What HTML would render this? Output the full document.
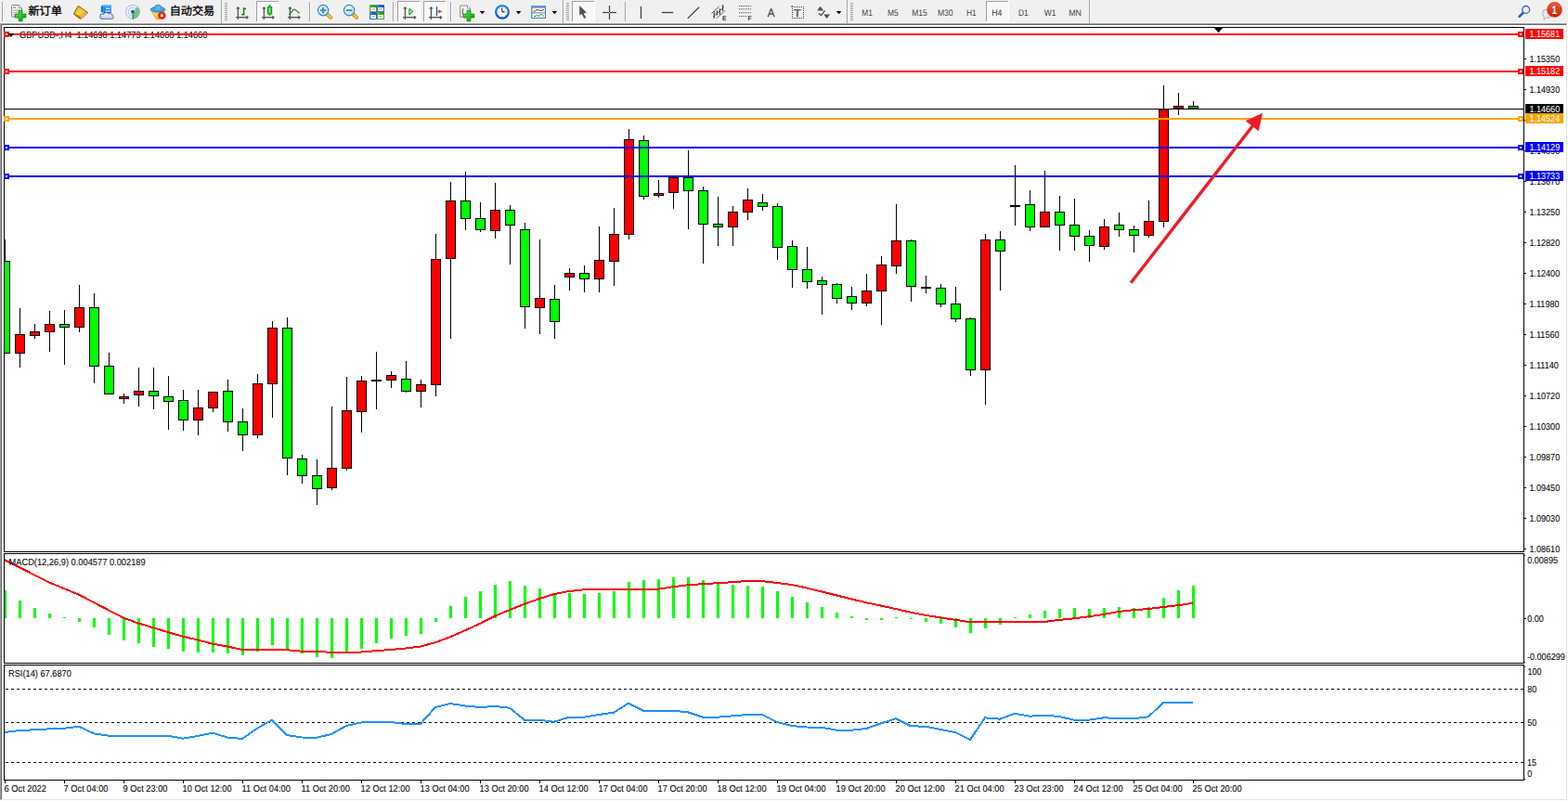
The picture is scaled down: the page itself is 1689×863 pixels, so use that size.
<!DOCTYPE html>
<html><head><meta charset="utf-8"><title>GBPUSD H4</title>
<style>html,body{margin:0;padding:0;background:#f0f0f0;overflow:hidden}body{width:1689px;height:863px;font-family:"Liberation Sans",sans-serif}svg{display:block;position:absolute;left:0;top:0}text{font-family:"Liberation Sans",sans-serif;text-rendering:geometricPrecision}</style>
</head><body>
<svg width="1689" height="863" viewBox="0 0 1689 863">

<rect x="0" y="0" width="1689" height="863" fill="#f0f0f0"/>
<g shape-rendering="crispEdges">
<rect x="0" y="24" width="1689" height="1" fill="#f8f8f8"/>
<rect x="0" y="25" width="1689" height="838" fill="#a0a0a0"/>
<rect x="1" y="26" width="1688" height="837" fill="#696969"/>
<rect x="2" y="27" width="1687" height="836" fill="#ffffff"/>
<rect x="1687" y="26" width="1" height="836" fill="#e3e3e3"/>
<rect x="1" y="861" width="1687" height="1" fill="#e3e3e3"/>
<rect x="1688" y="25" width="1" height="838" fill="#ffffff"/>
<rect x="0" y="862" width="1689" height="1" fill="#ffffff"/>
</g>
<g font-size="9px" fill="#000">
<text transform="translate(21,40.7) scale(0.90711,1)" font-size="10.175px" fill="#000" stroke="#000" stroke-width="0.06" xml:space="preserve">GBPUSD-,H4  1.14690 1.14773 1.14660 1.14660</text>
</g>
<g shape-rendering="crispEdges">
<rect x="4" y="29" width="1638" height="1" fill="#000"/>
<rect x="4" y="29" width="1" height="812" fill="#000"/>
<rect x="1641" y="29" width="1" height="812" fill="#000"/>
<rect x="4" y="594" width="1638" height="1" fill="#000"/>
<rect x="4" y="596" width="1638" height="1" fill="#000"/>
<rect x="4" y="714" width="1638" height="1" fill="#000"/>
<rect x="4" y="716" width="1638" height="1" fill="#000"/>
<rect x="4" y="840" width="1638" height="1" fill="#000"/>
<rect x="4" y="595" width="1" height="1" fill="#fff"/>
<rect x="4" y="715" width="1" height="1" fill="#fff"/>
<rect x="1641" y="595" width="1" height="1" fill="#fff"/>
<rect x="1641" y="715" width="1" height="1" fill="#fff"/>
<polygon points="1307.5,29.5 1317.5,29.5 1312.5,35.2" fill="#000" shape-rendering="geometricPrecision"/>
</g>
<g shape-rendering="crispEdges">
<rect x="1642" y="63" width="2" height="1" fill="#000"/>
<rect x="1642" y="96" width="2" height="1" fill="#000"/>
<rect x="1642" y="129" width="2" height="1" fill="#000"/>
<rect x="1642" y="162" width="2" height="1" fill="#000"/>
<rect x="1642" y="195" width="2" height="1" fill="#000"/>
<rect x="1642" y="228" width="2" height="1" fill="#000"/>
<rect x="1642" y="261" width="2" height="1" fill="#000"/>
<rect x="1642" y="294" width="2" height="1" fill="#000"/>
<rect x="1642" y="327" width="2" height="1" fill="#000"/>
<rect x="1642" y="360" width="2" height="1" fill="#000"/>
<rect x="1642" y="393" width="2" height="1" fill="#000"/>
<rect x="1642" y="426" width="2" height="1" fill="#000"/>
<rect x="1642" y="459" width="2" height="1" fill="#000"/>
<rect x="1642" y="492" width="2" height="1" fill="#000"/>
<rect x="1642" y="525" width="2" height="1" fill="#000"/>
<rect x="1642" y="558" width="2" height="1" fill="#000"/>
<rect x="1642" y="591" width="2" height="1" fill="#000"/>
</g>
<g font-size="9px" fill="#000">
<text transform="translate(1647.4,67) scale(0.89340,1)" font-size="10.175px" fill="#000" stroke="#000" stroke-width="0.06" xml:space="preserve">1.15350</text>
<text transform="translate(1647.4,100) scale(0.89340,1)" font-size="10.175px" fill="#000" stroke="#000" stroke-width="0.06" xml:space="preserve">1.14930</text>
<text transform="translate(1647.4,166) scale(0.89340,1)" font-size="10.175px" fill="#000" stroke="#000" stroke-width="0.06" xml:space="preserve">1.14090</text>
<text transform="translate(1647.4,199) scale(0.89340,1)" font-size="10.175px" fill="#000" stroke="#000" stroke-width="0.06" xml:space="preserve">1.13670</text>
<text transform="translate(1647.4,232) scale(0.89340,1)" font-size="10.175px" fill="#000" stroke="#000" stroke-width="0.06" xml:space="preserve">1.13250</text>
<text transform="translate(1647.4,265) scale(0.89340,1)" font-size="10.175px" fill="#000" stroke="#000" stroke-width="0.06" xml:space="preserve">1.12820</text>
<text transform="translate(1647.4,298) scale(0.89340,1)" font-size="10.175px" fill="#000" stroke="#000" stroke-width="0.06" xml:space="preserve">1.12400</text>
<text transform="translate(1647.4,331) scale(0.89340,1)" font-size="10.175px" fill="#000" stroke="#000" stroke-width="0.06" xml:space="preserve">1.11980</text>
<text transform="translate(1647.4,364) scale(0.89340,1)" font-size="10.175px" fill="#000" stroke="#000" stroke-width="0.06" xml:space="preserve">1.11560</text>
<text transform="translate(1647.4,397) scale(0.89340,1)" font-size="10.175px" fill="#000" stroke="#000" stroke-width="0.06" xml:space="preserve">1.11140</text>
<text transform="translate(1647.4,430) scale(0.89340,1)" font-size="10.175px" fill="#000" stroke="#000" stroke-width="0.06" xml:space="preserve">1.10720</text>
<text transform="translate(1647.4,463) scale(0.89340,1)" font-size="10.175px" fill="#000" stroke="#000" stroke-width="0.06" xml:space="preserve">1.10300</text>
<text transform="translate(1647.4,496) scale(0.89340,1)" font-size="10.175px" fill="#000" stroke="#000" stroke-width="0.06" xml:space="preserve">1.09870</text>
<text transform="translate(1647.4,529) scale(0.89340,1)" font-size="10.175px" fill="#000" stroke="#000" stroke-width="0.06" xml:space="preserve">1.09450</text>
<text transform="translate(1647.4,562) scale(0.89340,1)" font-size="10.175px" fill="#000" stroke="#000" stroke-width="0.06" xml:space="preserve">1.09030</text>
<text transform="translate(1647.4,595) scale(0.89340,1)" font-size="10.175px" fill="#000" stroke="#000" stroke-width="0.06" xml:space="preserve">1.08610</text>
</g>
<g shape-rendering="crispEdges">
<rect x="5" y="258" width="1" height="123" fill="#000"/>
<rect x="5" y="281" width="6" height="100" fill="#000"/>
<rect x="5" y="282" width="5" height="98" fill="#00ff00"/>
<rect x="21" y="332" width="1" height="64" fill="#000"/>
<rect x="16" y="360" width="11" height="21" fill="#000"/>
<rect x="17" y="361" width="9" height="19" fill="#ff0000"/>
<rect x="37" y="349" width="1" height="16" fill="#000"/>
<rect x="32" y="357" width="11" height="5" fill="#000"/>
<rect x="33" y="358" width="9" height="3" fill="#ff0000"/>
<rect x="53" y="335" width="1" height="44" fill="#000"/>
<rect x="48" y="349" width="11" height="9" fill="#000"/>
<rect x="49" y="350" width="9" height="7" fill="#ff0000"/>
<rect x="69" y="334" width="1" height="59" fill="#000"/>
<rect x="64" y="349" width="11" height="4" fill="#000"/>
<rect x="65" y="350" width="9" height="2" fill="#00ff00"/>
<rect x="85" y="307" width="1" height="51" fill="#000"/>
<rect x="80" y="331" width="11" height="22" fill="#000"/>
<rect x="81" y="332" width="9" height="20" fill="#ff0000"/>
<rect x="101" y="316" width="1" height="97" fill="#000"/>
<rect x="96" y="331" width="11" height="64" fill="#000"/>
<rect x="97" y="332" width="9" height="62" fill="#00ff00"/>
<rect x="117" y="380" width="1" height="45" fill="#000"/>
<rect x="112" y="394" width="11" height="31" fill="#000"/>
<rect x="113" y="395" width="9" height="29" fill="#00ff00"/>
<rect x="133" y="424" width="1" height="11" fill="#000"/>
<rect x="128" y="427" width="11" height="3" fill="#000"/>
<rect x="129" y="428" width="9" height="1" fill="#ff0000"/>
<rect x="149" y="396" width="1" height="42" fill="#000"/>
<rect x="144" y="421" width="11" height="5" fill="#000"/>
<rect x="145" y="422" width="9" height="3" fill="#ff0000"/>
<rect x="165" y="396" width="1" height="45" fill="#000"/>
<rect x="160" y="421" width="11" height="6" fill="#000"/>
<rect x="161" y="422" width="9" height="4" fill="#00ff00"/>
<rect x="181" y="405" width="1" height="58" fill="#000"/>
<rect x="176" y="427" width="11" height="6" fill="#000"/>
<rect x="177" y="428" width="9" height="4" fill="#00ff00"/>
<rect x="197" y="420" width="1" height="44" fill="#000"/>
<rect x="192" y="431" width="11" height="22" fill="#000"/>
<rect x="193" y="432" width="9" height="20" fill="#00ff00"/>
<rect x="213" y="420" width="1" height="49" fill="#000"/>
<rect x="208" y="439" width="11" height="14" fill="#000"/>
<rect x="209" y="440" width="9" height="12" fill="#ff0000"/>
<rect x="229" y="422" width="1" height="22" fill="#000"/>
<rect x="224" y="422" width="11" height="18" fill="#000"/>
<rect x="225" y="423" width="9" height="16" fill="#ff0000"/>
<rect x="245" y="409" width="1" height="56" fill="#000"/>
<rect x="240" y="421" width="11" height="34" fill="#000"/>
<rect x="241" y="422" width="9" height="32" fill="#00ff00"/>
<rect x="261" y="440" width="1" height="46" fill="#000"/>
<rect x="256" y="454" width="11" height="15" fill="#000"/>
<rect x="257" y="455" width="9" height="13" fill="#00ff00"/>
<rect x="277" y="403" width="1" height="69" fill="#000"/>
<rect x="272" y="413" width="11" height="56" fill="#000"/>
<rect x="273" y="414" width="9" height="54" fill="#ff0000"/>
<rect x="293" y="346" width="1" height="104" fill="#000"/>
<rect x="288" y="353" width="11" height="61" fill="#000"/>
<rect x="289" y="354" width="9" height="59" fill="#ff0000"/>
<rect x="309" y="342" width="1" height="170" fill="#000"/>
<rect x="304" y="353" width="11" height="141" fill="#000"/>
<rect x="305" y="354" width="9" height="139" fill="#00ff00"/>
<rect x="325" y="490" width="1" height="31" fill="#000"/>
<rect x="320" y="494" width="11" height="19" fill="#000"/>
<rect x="321" y="495" width="9" height="17" fill="#00ff00"/>
<rect x="341" y="495" width="1" height="49" fill="#000"/>
<rect x="336" y="512" width="11" height="15" fill="#000"/>
<rect x="337" y="513" width="9" height="13" fill="#00ff00"/>
<rect x="357" y="438" width="1" height="90" fill="#000"/>
<rect x="352" y="504" width="11" height="22" fill="#000"/>
<rect x="353" y="505" width="9" height="20" fill="#ff0000"/>
<rect x="373" y="406" width="1" height="101" fill="#000"/>
<rect x="368" y="442" width="11" height="63" fill="#000"/>
<rect x="369" y="443" width="9" height="61" fill="#ff0000"/>
<rect x="389" y="405" width="1" height="61" fill="#000"/>
<rect x="384" y="410" width="11" height="34" fill="#000"/>
<rect x="385" y="411" width="9" height="32" fill="#ff0000"/>
<rect x="405" y="379" width="1" height="62" fill="#000"/>
<rect x="400" y="409" width="11" height="2" fill="#000"/>
<rect x="421" y="400" width="1" height="18" fill="#000"/>
<rect x="416" y="404" width="11" height="6" fill="#000"/>
<rect x="417" y="405" width="9" height="4" fill="#ff0000"/>
<rect x="437" y="389" width="1" height="34" fill="#000"/>
<rect x="432" y="408" width="11" height="14" fill="#000"/>
<rect x="433" y="409" width="9" height="12" fill="#00ff00"/>
<rect x="453" y="409" width="1" height="30" fill="#000"/>
<rect x="448" y="414" width="11" height="8" fill="#000"/>
<rect x="449" y="415" width="9" height="6" fill="#ff0000"/>
<rect x="469" y="252" width="1" height="175" fill="#000"/>
<rect x="464" y="279" width="11" height="136" fill="#000"/>
<rect x="465" y="280" width="9" height="134" fill="#ff0000"/>
<rect x="485" y="196" width="1" height="169" fill="#000"/>
<rect x="480" y="216" width="11" height="63" fill="#000"/>
<rect x="481" y="217" width="9" height="61" fill="#ff0000"/>
<rect x="501" y="185" width="1" height="63" fill="#000"/>
<rect x="496" y="216" width="11" height="20" fill="#000"/>
<rect x="497" y="217" width="9" height="18" fill="#00ff00"/>
<rect x="517" y="218" width="1" height="32" fill="#000"/>
<rect x="512" y="235" width="11" height="13" fill="#000"/>
<rect x="513" y="236" width="9" height="11" fill="#00ff00"/>
<rect x="533" y="197" width="1" height="60" fill="#000"/>
<rect x="528" y="226" width="11" height="23" fill="#000"/>
<rect x="529" y="227" width="9" height="21" fill="#ff0000"/>
<rect x="549" y="221" width="1" height="64" fill="#000"/>
<rect x="544" y="226" width="11" height="17" fill="#000"/>
<rect x="545" y="227" width="9" height="15" fill="#00ff00"/>
<rect x="565" y="240" width="1" height="114" fill="#000"/>
<rect x="560" y="247" width="11" height="84" fill="#000"/>
<rect x="561" y="248" width="9" height="82" fill="#00ff00"/>
<rect x="581" y="258" width="1" height="102" fill="#000"/>
<rect x="576" y="321" width="11" height="11" fill="#000"/>
<rect x="577" y="322" width="9" height="9" fill="#ff0000"/>
<rect x="597" y="307" width="1" height="58" fill="#000"/>
<rect x="592" y="322" width="11" height="25" fill="#000"/>
<rect x="593" y="323" width="9" height="23" fill="#00ff00"/>
<rect x="613" y="289" width="1" height="24" fill="#000"/>
<rect x="608" y="294" width="11" height="5" fill="#000"/>
<rect x="609" y="295" width="9" height="3" fill="#ff0000"/>
<rect x="629" y="286" width="1" height="29" fill="#000"/>
<rect x="624" y="294" width="11" height="7" fill="#000"/>
<rect x="625" y="295" width="9" height="5" fill="#00ff00"/>
<rect x="645" y="244" width="1" height="71" fill="#000"/>
<rect x="640" y="280" width="11" height="21" fill="#000"/>
<rect x="641" y="281" width="9" height="19" fill="#ff0000"/>
<rect x="661" y="224" width="1" height="84" fill="#000"/>
<rect x="656" y="252" width="11" height="30" fill="#000"/>
<rect x="657" y="253" width="9" height="28" fill="#ff0000"/>
<rect x="677" y="139" width="1" height="119" fill="#000"/>
<rect x="672" y="150" width="11" height="103" fill="#000"/>
<rect x="673" y="151" width="9" height="101" fill="#ff0000"/>
<rect x="693" y="146" width="1" height="69" fill="#000"/>
<rect x="688" y="151" width="11" height="61" fill="#000"/>
<rect x="689" y="152" width="9" height="59" fill="#00ff00"/>
<rect x="709" y="194" width="1" height="19" fill="#000"/>
<rect x="704" y="208" width="11" height="3" fill="#000"/>
<rect x="705" y="209" width="9" height="1" fill="#ff0000"/>
<rect x="725" y="191" width="1" height="34" fill="#000"/>
<rect x="720" y="191" width="11" height="17" fill="#000"/>
<rect x="721" y="192" width="9" height="15" fill="#ff0000"/>
<rect x="741" y="162" width="1" height="85" fill="#000"/>
<rect x="736" y="191" width="11" height="15" fill="#000"/>
<rect x="737" y="192" width="9" height="13" fill="#00ff00"/>
<rect x="757" y="201" width="1" height="83" fill="#000"/>
<rect x="752" y="205" width="11" height="37" fill="#000"/>
<rect x="753" y="206" width="9" height="35" fill="#00ff00"/>
<rect x="773" y="212" width="1" height="53" fill="#000"/>
<rect x="768" y="241" width="11" height="4" fill="#000"/>
<rect x="769" y="242" width="9" height="2" fill="#00ff00"/>
<rect x="789" y="222" width="1" height="43" fill="#000"/>
<rect x="784" y="228" width="11" height="17" fill="#000"/>
<rect x="785" y="229" width="9" height="15" fill="#ff0000"/>
<rect x="805" y="203" width="1" height="34" fill="#000"/>
<rect x="800" y="215" width="11" height="14" fill="#000"/>
<rect x="801" y="216" width="9" height="12" fill="#ff0000"/>
<rect x="821" y="209" width="1" height="18" fill="#000"/>
<rect x="816" y="218" width="11" height="5" fill="#000"/>
<rect x="817" y="219" width="9" height="3" fill="#00ff00"/>
<rect x="837" y="219" width="1" height="61" fill="#000"/>
<rect x="832" y="222" width="11" height="45" fill="#000"/>
<rect x="833" y="223" width="9" height="43" fill="#00ff00"/>
<rect x="853" y="259" width="1" height="51" fill="#000"/>
<rect x="848" y="265" width="11" height="26" fill="#000"/>
<rect x="849" y="266" width="9" height="24" fill="#00ff00"/>
<rect x="869" y="266" width="1" height="45" fill="#000"/>
<rect x="864" y="290" width="11" height="14" fill="#000"/>
<rect x="865" y="291" width="9" height="12" fill="#00ff00"/>
<rect x="885" y="298" width="1" height="41" fill="#000"/>
<rect x="880" y="302" width="11" height="5" fill="#000"/>
<rect x="881" y="303" width="9" height="3" fill="#00ff00"/>
<rect x="901" y="305" width="1" height="22" fill="#000"/>
<rect x="896" y="306" width="11" height="16" fill="#000"/>
<rect x="897" y="307" width="9" height="14" fill="#00ff00"/>
<rect x="917" y="309" width="1" height="25" fill="#000"/>
<rect x="912" y="319" width="11" height="8" fill="#000"/>
<rect x="913" y="320" width="9" height="6" fill="#00ff00"/>
<rect x="933" y="295" width="1" height="35" fill="#000"/>
<rect x="928" y="313" width="11" height="14" fill="#000"/>
<rect x="929" y="314" width="9" height="12" fill="#ff0000"/>
<rect x="949" y="276" width="1" height="74" fill="#000"/>
<rect x="944" y="285" width="11" height="29" fill="#000"/>
<rect x="945" y="286" width="9" height="27" fill="#ff0000"/>
<rect x="965" y="220" width="1" height="75" fill="#000"/>
<rect x="960" y="259" width="11" height="28" fill="#000"/>
<rect x="961" y="260" width="9" height="26" fill="#ff0000"/>
<rect x="981" y="258" width="1" height="67" fill="#000"/>
<rect x="976" y="259" width="11" height="50" fill="#000"/>
<rect x="977" y="260" width="9" height="48" fill="#00ff00"/>
<rect x="997" y="297" width="1" height="19" fill="#000"/>
<rect x="992" y="309" width="11" height="2" fill="#000"/>
<rect x="1013" y="306" width="1" height="25" fill="#000"/>
<rect x="1008" y="310" width="11" height="18" fill="#000"/>
<rect x="1009" y="311" width="9" height="16" fill="#00ff00"/>
<rect x="1029" y="309" width="1" height="38" fill="#000"/>
<rect x="1024" y="327" width="11" height="17" fill="#000"/>
<rect x="1025" y="328" width="9" height="15" fill="#00ff00"/>
<rect x="1045" y="342" width="1" height="63" fill="#000"/>
<rect x="1040" y="343" width="11" height="56" fill="#000"/>
<rect x="1041" y="344" width="9" height="54" fill="#00ff00"/>
<rect x="1061" y="252" width="1" height="184" fill="#000"/>
<rect x="1056" y="258" width="11" height="141" fill="#000"/>
<rect x="1057" y="259" width="9" height="139" fill="#ff0000"/>
<rect x="1077" y="249" width="1" height="64" fill="#000"/>
<rect x="1072" y="258" width="11" height="13" fill="#000"/>
<rect x="1073" y="259" width="9" height="11" fill="#00ff00"/>
<rect x="1093" y="178" width="1" height="65" fill="#000"/>
<rect x="1088" y="221" width="11" height="2" fill="#000"/>
<rect x="1109" y="205" width="1" height="44" fill="#000"/>
<rect x="1104" y="220" width="11" height="25" fill="#000"/>
<rect x="1105" y="221" width="9" height="23" fill="#00ff00"/>
<rect x="1125" y="184" width="1" height="61" fill="#000"/>
<rect x="1120" y="228" width="11" height="17" fill="#000"/>
<rect x="1121" y="229" width="9" height="15" fill="#ff0000"/>
<rect x="1141" y="211" width="1" height="59" fill="#000"/>
<rect x="1136" y="228" width="11" height="15" fill="#000"/>
<rect x="1137" y="229" width="9" height="13" fill="#00ff00"/>
<rect x="1157" y="214" width="1" height="56" fill="#000"/>
<rect x="1152" y="242" width="11" height="13" fill="#000"/>
<rect x="1153" y="243" width="9" height="11" fill="#00ff00"/>
<rect x="1173" y="248" width="1" height="34" fill="#000"/>
<rect x="1168" y="254" width="11" height="11" fill="#000"/>
<rect x="1169" y="255" width="9" height="9" fill="#00ff00"/>
<rect x="1189" y="236" width="1" height="33" fill="#000"/>
<rect x="1184" y="244" width="11" height="22" fill="#000"/>
<rect x="1185" y="245" width="9" height="20" fill="#ff0000"/>
<rect x="1205" y="229" width="1" height="26" fill="#000"/>
<rect x="1200" y="242" width="11" height="6" fill="#000"/>
<rect x="1201" y="243" width="9" height="4" fill="#00ff00"/>
<rect x="1221" y="243" width="1" height="29" fill="#000"/>
<rect x="1216" y="247" width="11" height="7" fill="#000"/>
<rect x="1217" y="248" width="9" height="5" fill="#00ff00"/>
<rect x="1237" y="216" width="1" height="40" fill="#000"/>
<rect x="1232" y="238" width="11" height="16" fill="#000"/>
<rect x="1233" y="239" width="9" height="14" fill="#ff0000"/>
<rect x="1253" y="92" width="1" height="153" fill="#000"/>
<rect x="1248" y="118" width="11" height="121" fill="#000"/>
<rect x="1249" y="119" width="9" height="119" fill="#ff0000"/>
<rect x="1269" y="100" width="1" height="24" fill="#000"/>
<rect x="1264" y="114" width="11" height="3" fill="#000"/>
<rect x="1265" y="115" width="9" height="1" fill="#ff0000"/>
<rect x="1285" y="109" width="1" height="8" fill="#000"/>
<rect x="1280" y="114" width="11" height="3" fill="#000"/>
<rect x="1281" y="115" width="9" height="1" fill="#00ff00"/>
</g>
<g shape-rendering="crispEdges">
<rect x="5" y="117" width="1636" height="1" fill="#000"/>
<rect x="5" y="36" width="1636" height="2" fill="#ff0000"/>
<rect x="4" y="34" width="6" height="6" fill="#ff0000"/>
<rect x="6" y="36" width="2" height="2" fill="#fff"/>
<rect x="1635" y="34" width="6" height="6" fill="#ff0000"/>
<rect x="1637" y="36" width="2" height="2" fill="#fff"/>
<rect x="5" y="76" width="1636" height="2" fill="#ff0000"/>
<rect x="4" y="74" width="6" height="6" fill="#ff0000"/>
<rect x="6" y="76" width="2" height="2" fill="#fff"/>
<rect x="1635" y="74" width="6" height="6" fill="#ff0000"/>
<rect x="1637" y="76" width="2" height="2" fill="#fff"/>
<rect x="5" y="127" width="1636" height="2" fill="#ffa500"/>
<rect x="4" y="125" width="6" height="6" fill="#ffa500"/>
<rect x="6" y="127" width="2" height="2" fill="#fff"/>
<rect x="1635" y="125" width="6" height="6" fill="#ffa500"/>
<rect x="1637" y="127" width="2" height="2" fill="#fff"/>
<rect x="5" y="158" width="1636" height="2" fill="#0000ff"/>
<rect x="4" y="156" width="6" height="6" fill="#0000ff"/>
<rect x="6" y="158" width="2" height="2" fill="#fff"/>
<rect x="1635" y="156" width="6" height="6" fill="#0000ff"/>
<rect x="1637" y="158" width="2" height="2" fill="#fff"/>
<rect x="5" y="189" width="1636" height="2" fill="#0000ff"/>
<rect x="4" y="187" width="6" height="6" fill="#0000ff"/>
<rect x="6" y="189" width="2" height="2" fill="#fff"/>
<rect x="1635" y="187" width="6" height="6" fill="#0000ff"/>
<rect x="1637" y="189" width="2" height="2" fill="#fff"/>
<rect x="1643" y="31" width="41" height="11" fill="#ff0000"/>
<rect x="1643" y="71" width="41" height="11" fill="#ff0000"/>
<rect x="1643" y="112" width="41" height="11" fill="#000000"/>
<rect x="1643" y="122" width="41" height="11" fill="#ffa500"/>
<rect x="1643" y="153" width="41" height="11" fill="#0000ff"/>
<rect x="1643" y="184" width="41" height="11" fill="#0000ff"/>
</g>
<g font-size="9px" fill="#fff">
<text transform="translate(1647.4,40) scale(0.89340,1)" font-size="10.175px" fill="#fff" stroke="#fff" stroke-width="0.06" xml:space="preserve">1.15681</text>
<text transform="translate(1647.4,80) scale(0.89340,1)" font-size="10.175px" fill="#fff" stroke="#fff" stroke-width="0.06" xml:space="preserve">1.15182</text>
<text transform="translate(1647.4,121) scale(0.89340,1)" font-size="10.175px" fill="#fff" stroke="#fff" stroke-width="0.06" xml:space="preserve">1.14660</text>
<text transform="translate(1647.4,131) scale(0.89340,1)" font-size="10.175px" fill="#fff" stroke="#fff" stroke-width="0.06" xml:space="preserve">1.14524</text>
<text transform="translate(1647.4,162) scale(0.89340,1)" font-size="10.175px" fill="#fff" stroke="#fff" stroke-width="0.06" xml:space="preserve">1.14129</text>
<text transform="translate(1647.4,193) scale(0.89340,1)" font-size="10.175px" fill="#fff" stroke="#fff" stroke-width="0.06" xml:space="preserve">1.13733</text>
</g>
<polygon points="8.3,36 15.3,36 11.8,40" fill="#000"/>
<g>
<line x1="1218.1" y1="304.8" x2="1349.8" y2="135" stroke="#ed1c24" stroke-width="3.4"/>
<polygon points="1360,121.7 1341.7,130.3 1355.7,141.2" fill="#ed1c24"/>
</g>
<g shape-rendering="crispEdges">
<rect x="5" y="636" width="2" height="30" fill="#00ff00"/>
<rect x="20" y="647" width="3" height="19" fill="#00ff00"/>
<rect x="36" y="655" width="3" height="11" fill="#00ff00"/>
<rect x="52" y="661" width="3" height="5" fill="#00ff00"/>
<rect x="68" y="665" width="3" height="1" fill="#00ff00"/>
<rect x="84" y="666" width="3" height="4" fill="#00ff00"/>
<rect x="100" y="666" width="3" height="10" fill="#00ff00"/>
<rect x="116" y="666" width="3" height="18" fill="#00ff00"/>
<rect x="132" y="666" width="3" height="24" fill="#00ff00"/>
<rect x="148" y="666" width="3" height="27" fill="#00ff00"/>
<rect x="164" y="666" width="3" height="31" fill="#00ff00"/>
<rect x="180" y="666" width="3" height="33" fill="#00ff00"/>
<rect x="196" y="666" width="3" height="36" fill="#00ff00"/>
<rect x="212" y="666" width="3" height="37" fill="#00ff00"/>
<rect x="228" y="666" width="3" height="37" fill="#00ff00"/>
<rect x="244" y="666" width="3" height="38" fill="#00ff00"/>
<rect x="260" y="666" width="3" height="40" fill="#00ff00"/>
<rect x="276" y="666" width="3" height="36" fill="#00ff00"/>
<rect x="292" y="666" width="3" height="29" fill="#00ff00"/>
<rect x="308" y="666" width="3" height="33" fill="#00ff00"/>
<rect x="324" y="666" width="3" height="38" fill="#00ff00"/>
<rect x="340" y="666" width="3" height="42" fill="#00ff00"/>
<rect x="356" y="666" width="3" height="43" fill="#00ff00"/>
<rect x="372" y="666" width="3" height="38" fill="#00ff00"/>
<rect x="388" y="666" width="3" height="33" fill="#00ff00"/>
<rect x="404" y="666" width="3" height="27" fill="#00ff00"/>
<rect x="420" y="666" width="3" height="22" fill="#00ff00"/>
<rect x="436" y="666" width="3" height="19" fill="#00ff00"/>
<rect x="452" y="666" width="3" height="17" fill="#00ff00"/>
<rect x="468" y="666" width="3" height="4" fill="#00ff00"/>
<rect x="484" y="653" width="3" height="13" fill="#00ff00"/>
<rect x="500" y="643" width="3" height="23" fill="#00ff00"/>
<rect x="516" y="637" width="3" height="29" fill="#00ff00"/>
<rect x="532" y="630" width="3" height="36" fill="#00ff00"/>
<rect x="548" y="626" width="3" height="40" fill="#00ff00"/>
<rect x="564" y="631" width="3" height="35" fill="#00ff00"/>
<rect x="580" y="634" width="3" height="32" fill="#00ff00"/>
<rect x="596" y="639" width="3" height="27" fill="#00ff00"/>
<rect x="612" y="639" width="3" height="27" fill="#00ff00"/>
<rect x="628" y="640" width="3" height="26" fill="#00ff00"/>
<rect x="644" y="639" width="3" height="27" fill="#00ff00"/>
<rect x="660" y="637" width="3" height="29" fill="#00ff00"/>
<rect x="676" y="627" width="3" height="39" fill="#00ff00"/>
<rect x="692" y="625" width="3" height="41" fill="#00ff00"/>
<rect x="708" y="624" width="3" height="42" fill="#00ff00"/>
<rect x="724" y="622" width="3" height="44" fill="#00ff00"/>
<rect x="740" y="622" width="3" height="44" fill="#00ff00"/>
<rect x="756" y="625" width="3" height="41" fill="#00ff00"/>
<rect x="772" y="629" width="3" height="37" fill="#00ff00"/>
<rect x="788" y="630" width="3" height="36" fill="#00ff00"/>
<rect x="804" y="631" width="3" height="35" fill="#00ff00"/>
<rect x="820" y="632" width="3" height="34" fill="#00ff00"/>
<rect x="836" y="637" width="3" height="29" fill="#00ff00"/>
<rect x="852" y="643" width="3" height="23" fill="#00ff00"/>
<rect x="868" y="649" width="3" height="17" fill="#00ff00"/>
<rect x="884" y="654" width="3" height="12" fill="#00ff00"/>
<rect x="900" y="660" width="3" height="6" fill="#00ff00"/>
<rect x="916" y="664" width="3" height="2" fill="#00ff00"/>
<rect x="932" y="666" width="3" height="2" fill="#00ff00"/>
<rect x="948" y="666" width="3" height="2" fill="#00ff00"/>
<rect x="964" y="665" width="3" height="1" fill="#00ff00"/>
<rect x="980" y="666" width="3" height="1" fill="#00ff00"/>
<rect x="996" y="666" width="3" height="4" fill="#00ff00"/>
<rect x="1012" y="666" width="3" height="6" fill="#00ff00"/>
<rect x="1028" y="666" width="3" height="10" fill="#00ff00"/>
<rect x="1044" y="666" width="3" height="16" fill="#00ff00"/>
<rect x="1060" y="666" width="3" height="11" fill="#00ff00"/>
<rect x="1076" y="666" width="3" height="7" fill="#00ff00"/>
<rect x="1092" y="665" width="3" height="1" fill="#00ff00"/>
<rect x="1108" y="662" width="3" height="4" fill="#00ff00"/>
<rect x="1124" y="658" width="3" height="8" fill="#00ff00"/>
<rect x="1140" y="656" width="3" height="10" fill="#00ff00"/>
<rect x="1156" y="655" width="3" height="11" fill="#00ff00"/>
<rect x="1172" y="656" width="3" height="10" fill="#00ff00"/>
<rect x="1188" y="655" width="3" height="11" fill="#00ff00"/>
<rect x="1204" y="654" width="3" height="12" fill="#00ff00"/>
<rect x="1220" y="655" width="3" height="11" fill="#00ff00"/>
<rect x="1236" y="654" width="3" height="12" fill="#00ff00"/>
<rect x="1252" y="644" width="3" height="22" fill="#00ff00"/>
<rect x="1268" y="636" width="3" height="30" fill="#00ff00"/>
<rect x="1284" y="631" width="3" height="35" fill="#00ff00"/>
</g>
<polyline points="5,603.2 53,627.5 85,640.7 133,665.7 149,671.5 165,676.2 181,681.2 197,685.7 213,689.5 229,693.7 245,696.5 261,700 277,700 309,700.2 325,701.7 357,702.7 389,702.5 405,701.2 421,700 437,698.5 453,696.5 469,692.2 485,686.2 501,679.2 517,671.9 533,663.8 549,657 565,650.7 581,645 597,640 613,637 629,635.3 661,635.2 709,634.7 725,632.2 741,630.2 757,629.2 773,628.2 789,627.2 805,626 821,626.2 837,628 853,630 869,633.5 885,637.4 901,641.4 917,645.4 933,649.3 949,652.6 965,656.1 981,659.8 997,662.8 1013,665.4 1029,667.8 1045,670.2 1123,670.2 1141,667.9 1157,666.3 1173,664.3 1189,661.9 1205,659 1221,657.2 1237,656.1 1253,653.9 1269,652.2 1285,649.8" fill="none" stroke="#ff0000" stroke-width="2" stroke-linejoin="round" shape-rendering="crispEdges"/>
<g font-size="9px" fill="#000">
<text transform="translate(9.5,609) scale(0.91463,1)" font-size="10.175px" fill="#000" stroke="#000" stroke-width="0.06" xml:space="preserve">MACD(12,26,9) 0.004577 0.002189</text>
<text transform="translate(1645.2,607.1) scale(0.89340,1)" font-size="10.175px" fill="#000" stroke="#000" stroke-width="0.06" xml:space="preserve">0.00895</text>
<text transform="translate(1645.2,670) scale(0.89340,1)" font-size="10.175px" fill="#000" stroke="#000" stroke-width="0.06" xml:space="preserve">0.00</text>
<text transform="translate(1645,711) scale(0.89163,1)" font-size="10.175px" fill="#000" stroke="#000" stroke-width="0.06" xml:space="preserve">-0.006299</text>
</g>
<g shape-rendering="crispEdges">
<rect x="1642" y="598" width="1" height="1" fill="#000"/>
<rect x="1642" y="666" width="2" height="1" fill="#000"/>
<rect x="1642" y="713" width="1" height="1" fill="#000"/>
<rect x="1642" y="718" width="1" height="1" fill="#000"/>
<rect x="1642" y="839" width="1" height="1" fill="#000"/>
</g>
<g shape-rendering="crispEdges">
<line x1="6" y1="742.5" x2="1641" y2="742.5" stroke="#000" stroke-width="1" stroke-dasharray="3 3"/>
<line x1="6" y1="778.5" x2="1641" y2="778.5" stroke="#000" stroke-width="1" stroke-dasharray="3 3"/>
<line x1="6" y1="821.5" x2="1641" y2="821.5" stroke="#000" stroke-width="1" stroke-dasharray="3 3"/>
</g>
<polyline points="5,789 21,787 37,786.3 53,785.3 69,784.7 85,782.7 101,790.3 117,792.7 133,792.7 149,792.7 165,792.7 181,792.7 197,795.7 213,793 229,789.7 245,794.5 261,796 277,784.7 293,775.7 309,792 325,794.5 341,794.7 357,791 373,782 389,778.5 405,778 421,778 437,780 453,779.7 469,762 485,758 501,760.5 517,762 533,761 549,762.7 565,775.7 581,775.7 597,777.7 613,772.7 629,772.7 645,770 661,767.7 677,757.7 693,765.7 709,765.7 725,765.7 741,767.3 757,772.7 773,772.7 789,771.3 805,770 821,770 837,778 853,782 869,783.5 885,783.7 901,786.7 917,786.7 933,785 949,779.3 965,774.3 981,782.3 997,782.7 1013,786 1029,789 1045,797 1061,773.3 1077,774.7 1093,768.7 1109,771.7 1125,770.7 1141,772 1157,775.7 1173,775.7 1189,773.3 1205,774 1221,774.3 1237,772.3 1253,757 1269,757 1285,757" fill="none" stroke="#1e90ff" stroke-width="2" stroke-linejoin="round" shape-rendering="crispEdges"/>
<g font-size="9px" fill="#000">
<text transform="translate(9,729) scale(0.91109,1)" font-size="10.175px" fill="#000" stroke="#000" stroke-width="0.06" xml:space="preserve">RSI(14) 67.6870</text>
<text transform="translate(1645.4,727) scale(0.88456,1)" font-size="10.175px" fill="#000" stroke="#000" stroke-width="0.06" xml:space="preserve">100</text>
<text transform="translate(1645.2,746) scale(0.88456,1)" font-size="10.175px" fill="#000" stroke="#000" stroke-width="0.06" xml:space="preserve">80</text>
<text transform="translate(1645.2,782) scale(0.88456,1)" font-size="10.175px" fill="#000" stroke="#000" stroke-width="0.06" xml:space="preserve">50</text>
<text transform="translate(1645,825) scale(0.88456,1)" font-size="10.175px" fill="#000" stroke="#000" stroke-width="0.06" xml:space="preserve">15</text>
<text transform="translate(1645.2,837) scale(0.88456,1)" font-size="10.175px" fill="#000" stroke="#000" stroke-width="0.06" xml:space="preserve">0</text>
</g>
<g shape-rendering="crispEdges">
<rect x="5" y="841" width="1" height="3" fill="#000"/>
<rect x="69" y="841" width="1" height="3" fill="#000"/>
<rect x="133" y="841" width="1" height="3" fill="#000"/>
<rect x="197" y="841" width="1" height="3" fill="#000"/>
<rect x="261" y="841" width="1" height="3" fill="#000"/>
<rect x="325" y="841" width="1" height="3" fill="#000"/>
<rect x="389" y="841" width="1" height="3" fill="#000"/>
<rect x="453" y="841" width="1" height="3" fill="#000"/>
<rect x="517" y="841" width="1" height="3" fill="#000"/>
<rect x="581" y="841" width="1" height="3" fill="#000"/>
<rect x="645" y="841" width="1" height="3" fill="#000"/>
<rect x="709" y="841" width="1" height="3" fill="#000"/>
<rect x="773" y="841" width="1" height="3" fill="#000"/>
<rect x="837" y="841" width="1" height="3" fill="#000"/>
<rect x="901" y="841" width="1" height="3" fill="#000"/>
<rect x="965" y="841" width="1" height="3" fill="#000"/>
<rect x="1029" y="841" width="1" height="3" fill="#000"/>
<rect x="1093" y="841" width="1" height="3" fill="#000"/>
<rect x="1157" y="841" width="1" height="3" fill="#000"/>
<rect x="1221" y="841" width="1" height="3" fill="#000"/>
<rect x="1285" y="841" width="1" height="3" fill="#000"/>
</g>
<g font-size="9px" fill="#000">
<text transform="translate(4.6,853) scale(0.91109,1)" font-size="10.175px" fill="#000" stroke="#000" stroke-width="0.06" xml:space="preserve">6 Oct 2022</text>
<text transform="translate(68.6,853) scale(0.91109,1)" font-size="10.175px" fill="#000" stroke="#000" stroke-width="0.06" xml:space="preserve">7 Oct 04:00</text>
<text transform="translate(132.6,853) scale(0.91109,1)" font-size="10.175px" fill="#000" stroke="#000" stroke-width="0.06" xml:space="preserve">9 Oct 23:00</text>
<text transform="translate(196.6,853) scale(0.91109,1)" font-size="10.175px" fill="#000" stroke="#000" stroke-width="0.06" xml:space="preserve">10 Oct 12:00</text>
<text transform="translate(260.6,853) scale(0.91109,1)" font-size="10.175px" fill="#000" stroke="#000" stroke-width="0.06" xml:space="preserve">11 Oct 04:00</text>
<text transform="translate(324.6,853) scale(0.91109,1)" font-size="10.175px" fill="#000" stroke="#000" stroke-width="0.06" xml:space="preserve">11 Oct 20:00</text>
<text transform="translate(388.6,853) scale(0.91109,1)" font-size="10.175px" fill="#000" stroke="#000" stroke-width="0.06" xml:space="preserve">12 Oct 12:00</text>
<text transform="translate(452.6,853) scale(0.91109,1)" font-size="10.175px" fill="#000" stroke="#000" stroke-width="0.06" xml:space="preserve">13 Oct 04:00</text>
<text transform="translate(516.6,853) scale(0.91109,1)" font-size="10.175px" fill="#000" stroke="#000" stroke-width="0.06" xml:space="preserve">13 Oct 20:00</text>
<text transform="translate(580.6,853) scale(0.91109,1)" font-size="10.175px" fill="#000" stroke="#000" stroke-width="0.06" xml:space="preserve">14 Oct 12:00</text>
<text transform="translate(644.6,853) scale(0.91109,1)" font-size="10.175px" fill="#000" stroke="#000" stroke-width="0.06" xml:space="preserve">17 Oct 04:00</text>
<text transform="translate(708.6,853) scale(0.91109,1)" font-size="10.175px" fill="#000" stroke="#000" stroke-width="0.06" xml:space="preserve">17 Oct 20:00</text>
<text transform="translate(772.6,853) scale(0.91109,1)" font-size="10.175px" fill="#000" stroke="#000" stroke-width="0.06" xml:space="preserve">18 Oct 12:00</text>
<text transform="translate(836.6,853) scale(0.91109,1)" font-size="10.175px" fill="#000" stroke="#000" stroke-width="0.06" xml:space="preserve">19 Oct 04:00</text>
<text transform="translate(900.6,853) scale(0.91109,1)" font-size="10.175px" fill="#000" stroke="#000" stroke-width="0.06" xml:space="preserve">19 Oct 20:00</text>
<text transform="translate(964.6,853) scale(0.91109,1)" font-size="10.175px" fill="#000" stroke="#000" stroke-width="0.06" xml:space="preserve">20 Oct 12:00</text>
<text transform="translate(1028.6,853) scale(0.91109,1)" font-size="10.175px" fill="#000" stroke="#000" stroke-width="0.06" xml:space="preserve">21 Oct 04:00</text>
<text transform="translate(1092.6,853) scale(0.91109,1)" font-size="10.175px" fill="#000" stroke="#000" stroke-width="0.06" xml:space="preserve">23 Oct 23:00</text>
<text transform="translate(1156.6,853) scale(0.91109,1)" font-size="10.175px" fill="#000" stroke="#000" stroke-width="0.06" xml:space="preserve">24 Oct 12:00</text>
<text transform="translate(1220.6,853) scale(0.91109,1)" font-size="10.175px" fill="#000" stroke="#000" stroke-width="0.06" xml:space="preserve">25 Oct 04:00</text>
<text transform="translate(1284.6,853) scale(0.91109,1)" font-size="10.175px" fill="#000" stroke="#000" stroke-width="0.06" xml:space="preserve">25 Oct 20:00</text>
</g>
<defs><linearGradient id="gpl" x1="0" y1="0" x2="1" y2="1"><stop offset="0" stop-color="#5fe85f"/><stop offset="1" stop-color="#009a00"/></linearGradient><linearGradient id="gdoc" x1="0" y1="0" x2="1" y2="1"><stop offset="0" stop-color="#ffffff"/><stop offset="1" stop-color="#d8d8d8"/></linearGradient><linearGradient id="gbook" x1="0" y1="0" x2="1" y2="1"><stop offset="0" stop-color="#d89c18"/><stop offset="0.5" stop-color="#f8d448"/><stop offset="1" stop-color="#d09018"/></linearGradient><linearGradient id="gsrv" x1="0" y1="0" x2="0" y2="1"><stop offset="0" stop-color="#30a0ff"/><stop offset="1" stop-color="#1078e0"/></linearGradient><linearGradient id="gcloud" gradientUnits="userSpaceOnUse" x1="0" y1="13.5" x2="0" y2="20.5"><stop offset="0" stop-color="#ffffff"/><stop offset="1" stop-color="#b8c8e8"/></linearGradient><linearGradient id="gbadge" x1="0" y1="0" x2="0" y2="1"><stop offset="0" stop-color="#e8583a"/><stop offset="1" stop-color="#d02008"/></linearGradient><linearGradient id="gyel" x1="0" y1="0" x2="1" y2="1"><stop offset="0" stop-color="#fff080"/><stop offset="1" stop-color="#e0a010"/></linearGradient><linearGradient id="gcnd" x1="0" y1="0" x2="1" y2="0"><stop offset="0" stop-color="#00c800"/><stop offset="0.5" stop-color="#70f070"/><stop offset="1" stop-color="#00c000"/></linearGradient><radialGradient id="glens" cx="0.4" cy="0.35" r="0.7"><stop offset="0" stop-color="#f4fbff"/><stop offset="1" stop-color="#b8e0f8"/></radialGradient><linearGradient id="gclock" x1="0" y1="0" x2="0" y2="1"><stop offset="0" stop-color="#2a8ae8"/><stop offset="1" stop-color="#0a4aa8"/></linearGradient></defs>
<rect x="2" y="2" width="1" height="21" fill="#a0a0a0" shape-rendering="crispEdges"/><rect x="3" y="2" width="1" height="21" fill="#fbfbfb" shape-rendering="crispEdges"/>
<path d="M13.6,5.5 H20.5 L23.5,8.5 V18.2 H13.6 Q12.6,18.2 12.6,17.2 V6.5 Q12.6,5.5 13.6,5.5 Z" fill="url(#gdoc)" stroke="#808080" stroke-width="1"/>
<path d="M20.5,5.5 V8.5 H23.5" fill="#fff" stroke="#8a8a8a" stroke-width="0.8"/>
<rect x="14.3" y="7.4" width="2.6" height="1.3" fill="#808080"/>
<g stroke="#a0a0a0" stroke-width="0.9"><line x1="14.3" y1="11" x2="21" y2="11"/><line x1="14.3" y1="13.3" x2="19" y2="13.3"/><line x1="14.3" y1="15.6" x2="17" y2="15.6"/></g>
<path d="M20.3,11.3 h3.7 v3.9 h3.9 v3.7 h-3.9 v3.9 h-3.7 v-3.9 h-3.9 v-3.7 h3.9 z" fill="url(#gpl)" stroke="#0a8a0a" stroke-width="0.9"/>
<text x="30.4" y="16.4" font-size="12.15px" fill="#000" stroke="#000" stroke-width="0.34" style="font-family:'Liberation Sans','Noto Sans CJK SC',sans-serif">新订单</text>
<path d="M83.6,6.4 Q84.4,5.6 85.4,6.4 L94.6,13 Q95.4,13.8 94.6,14.6 L87.8,20.4 Q86.8,21.1 85.8,20.4 L79.4,15.8 Q78.6,15 79.3,14 Z" fill="#a4680c"/>
<path d="M84.3,7 L93.6,13.6 L87,18.4 L80.2,14.2 Q82.6,11 84.3,7 Z" fill="url(#gbook)"/>
<path d="M94.2,14.2 L87.2,19.9 L86.6,18.9 L93.7,13.8 Z" fill="#ecd9a0"/>
<path d="M86.6,18.9 L87.2,19.9 L80.2,15.6 L80.2,14.4 Z" fill="#c88c18"/>
<polygon points="108.8,6.6 111.6,5.2 111.6,14 108.8,12.8" fill="#1070d8"/>
<polygon points="111.6,5.2 119.8,5.6 119.8,14 111.6,14" fill="url(#gsrv)"/>
<polygon points="108.8,6.6 111.6,5.2 119.8,5.6 117,6.9" fill="#68c0ff"/>
<rect x="114" y="8.6" width="4.5" height="1.2" fill="#d8f0ff"/><rect x="113.5" y="11" width="5.2" height="2" fill="#c8e8ff" opacity="0.7"/>
<g fill="#4a6cac"><circle cx="110.4" cy="17.7" r="3.1"/><circle cx="114.6" cy="16.6" r="3.6"/><circle cx="118.7" cy="17.1" r="2.9"/><circle cx="120.4" cy="18.5" r="2.3"/><rect x="110.4" y="17" width="10" height="3.8" rx="1"/></g>
<g fill="url(#gcloud)"><circle cx="110.4" cy="17.7" r="2.2"/><circle cx="114.6" cy="16.6" r="2.7"/><circle cx="118.7" cy="17.1" r="2"/><circle cx="120.4" cy="18.5" r="1.4"/><rect x="110.4" y="17" width="10" height="2.9"/></g>
<circle cx="142.9" cy="12.7" r="7.4" fill="#eaeff8" stroke="#9ab4e8" stroke-width="1" opacity="0.85"/>
<path d="M142.9,12.7 L143.20000000000002,20.299999999999997 A7.6,7.6 0 0 0 148.3,7.299999999999999 Z" fill="#6cb86c" opacity="0.85"/>
<circle cx="142.9" cy="12.7" r="4.6" fill="none" stroke="#7a9ee4" stroke-width="1" opacity="0.55"/>
<circle cx="142.9" cy="12.7" r="1.9" fill="#2050c8"/>
<line x1="143.3" y1="13.2" x2="143.4" y2="20.7" stroke="#20a020" stroke-width="1.5"/>
<polygon points="163,12 177.4,11.5 171.2,21 168.3,20.5" fill="url(#gyel)" stroke="#c89010" stroke-width="0.7"/>
<ellipse cx="170" cy="10.2" rx="7.8" ry="2.9" fill="#4aa0d8" stroke="#2a78a8" stroke-width="0.8"/>
<ellipse cx="170.2" cy="7.9" rx="3.5" ry="2.8" fill="#5ab4e8" stroke="#2a78a8" stroke-width="0.6"/>
<ellipse cx="170.2" cy="9.8" rx="3.4" ry="1.2" fill="#5ab4e8"/>
<circle cx="174.4" cy="16.7" r="4.2" fill="#e02810"/>
<rect x="173" y="15.3" width="2.8" height="2.8" fill="#fff"/>
<text x="182.7" y="16.4" font-size="12.15px" fill="#000" stroke="#000" stroke-width="0.34" style="font-family:'Liberation Sans','Noto Sans CJK SC',sans-serif">自动交易</text>
<rect x="238" y="0" width="1" height="25" fill="#a0a0a0" shape-rendering="crispEdges"/><rect x="239" y="0" width="1" height="25" fill="#ffffff" shape-rendering="crispEdges"/>
<rect x="242" y="3" width="3" height="1" fill="#a0a0a0" shape-rendering="crispEdges"/><rect x="242" y="5" width="3" height="1" fill="#a0a0a0" shape-rendering="crispEdges"/><rect x="242" y="7" width="3" height="1" fill="#a0a0a0" shape-rendering="crispEdges"/><rect x="242" y="9" width="3" height="1" fill="#a0a0a0" shape-rendering="crispEdges"/><rect x="242" y="11" width="3" height="1" fill="#a0a0a0" shape-rendering="crispEdges"/><rect x="242" y="13" width="3" height="1" fill="#a0a0a0" shape-rendering="crispEdges"/><rect x="242" y="15" width="3" height="1" fill="#a0a0a0" shape-rendering="crispEdges"/><rect x="242" y="17" width="3" height="1" fill="#a0a0a0" shape-rendering="crispEdges"/><rect x="242" y="19" width="3" height="1" fill="#a0a0a0" shape-rendering="crispEdges"/><rect x="242" y="21" width="3" height="1" fill="#a0a0a0" shape-rendering="crispEdges"/>
<g stroke="#505050" stroke-width="1.3" fill="none"><line x1="256.4" y1="8" x2="256.4" y2="21"/><line x1="254" y1="18.7" x2="267" y2="18.7"/></g><polygon points="254.2,9.6 256.4,7 258.59999999999997,9.6" fill="#505050"/><polygon points="265.4,16.5 268,18.7 265.4,20.9" fill="#505050"/>
<g stroke="#008000" stroke-width="1.4" fill="none"><line x1="262.6" y1="8.2" x2="262.6" y2="16.6"/><line x1="262.6" y1="9.4" x2="265" y2="9.4"/><line x1="260" y1="15.6" x2="262.6" y2="15.6"/></g>
<rect x="276" y="1" width="25" height="23" fill="#f8f8f8" shape-rendering="crispEdges"/><rect x="276" y="1" width="25" height="1" fill="#a0a0a0" shape-rendering="crispEdges"/><rect x="276" y="1" width="1" height="23" fill="#a0a0a0" shape-rendering="crispEdges"/><rect x="276" y="23" width="25" height="1" fill="#ffffff" shape-rendering="crispEdges"/><rect x="300" y="1" width="1" height="23" fill="#ffffff" shape-rendering="crispEdges"/>
<g stroke="#505050" stroke-width="1.3" fill="none"><line x1="284.4" y1="8" x2="284.4" y2="21"/><line x1="282" y1="18.7" x2="295" y2="18.7"/></g><polygon points="282.2,9.6 284.4,7 286.59999999999997,9.6" fill="#505050"/><polygon points="293.4,16.5 296,18.7 293.4,20.9" fill="#505050"/>
<line x1="290.5" y1="5.2" x2="290.5" y2="16.8" stroke="#008800" stroke-width="1.4"/>
<rect x="288.4" y="7.6" width="4.3" height="7.2" fill="url(#gcnd)" stroke="#009000" stroke-width="1"/>
<g stroke="#505050" stroke-width="1.3" fill="none"><line x1="312.4" y1="8" x2="312.4" y2="21"/><line x1="310" y1="18.7" x2="323" y2="18.7"/></g><polygon points="310.2,9.6 312.4,7 314.59999999999997,9.6" fill="#505050"/><polygon points="321.4,16.5 324,18.7 321.4,20.9" fill="#505050"/>
<path d="M311.2,15.6 C314,14 315.5,10 317.2,10.1 C319,10.2 320.5,13.6 322.8,14" fill="none" stroke="#209020" stroke-width="1.3"/>
<rect x="333" y="2" width="1" height="21" fill="#a0a0a0" shape-rendering="crispEdges"/><rect x="334" y="2" width="1" height="21" fill="#ffffff" shape-rendering="crispEdges"/>
<line x1="352.1" y1="15" x2="356.20000000000005" y2="18.9" stroke="#b88810" stroke-width="3.8" stroke-linecap="round"/>
<line x1="352.1" y1="15" x2="356.20000000000005" y2="18.9" stroke="#f0c830" stroke-width="2.2" stroke-linecap="round"/>
<circle cx="348.1" cy="11.1" r="5.7" fill="url(#glens)" stroke="#3a84d0" stroke-width="1.2"/>
<rect x="344.8" y="10.1" width="6.6" height="2" fill="#4a90c0"/>
<rect x="347.1" y="7.8" width="2" height="6.6" fill="#4a90c0"/>
<line x1="380.1" y1="15" x2="384.20000000000005" y2="18.9" stroke="#b88810" stroke-width="3.8" stroke-linecap="round"/>
<line x1="380.1" y1="15" x2="384.20000000000005" y2="18.9" stroke="#f0c830" stroke-width="2.2" stroke-linecap="round"/>
<circle cx="376.1" cy="11.1" r="5.7" fill="url(#glens)" stroke="#3a84d0" stroke-width="1.2"/>
<rect x="372.8" y="10.1" width="6.6" height="2" fill="#4a90c0"/>
<rect x="398.2" y="5.2" width="7.8" height="7.8" fill="#2a9a18"/>
<rect x="399.2" y="8.0" width="5.9" height="4.2" fill="#fff"/>
<rect x="400.4" y="9.4" width="3.4" height="0.9" fill="#2a9a18" opacity="0.6"/>
<rect x="399.4" y="6.2" width="1" height="1" fill="#fff" opacity="0.8"/>
<rect x="406.2" y="5.2" width="7.8" height="7.8" fill="#1a50d0"/>
<rect x="407.2" y="8.0" width="5.9" height="4.2" fill="#fff"/>
<rect x="408.4" y="9.4" width="3.4" height="0.9" fill="#1a50d0" opacity="0.6"/>
<rect x="407.4" y="6.2" width="1" height="1" fill="#fff" opacity="0.8"/>
<rect x="398.2" y="13.1" width="7.8" height="7.8" fill="#1a50d0"/>
<rect x="399.2" y="15.899999999999999" width="5.9" height="4.2" fill="#fff"/>
<rect x="400.4" y="17.3" width="3.4" height="0.9" fill="#1a50d0" opacity="0.6"/>
<rect x="399.4" y="14.1" width="1" height="1" fill="#fff" opacity="0.8"/>
<rect x="406.2" y="13.1" width="7.8" height="7.8" fill="#2a9a18"/>
<rect x="407.2" y="15.899999999999999" width="5.9" height="4.2" fill="#fff"/>
<rect x="408.4" y="17.3" width="3.4" height="0.9" fill="#2a9a18" opacity="0.6"/>
<rect x="407.4" y="14.1" width="1" height="1" fill="#fff" opacity="0.8"/>
<rect x="423" y="2" width="1" height="21" fill="#a0a0a0" shape-rendering="crispEdges"/><rect x="424" y="2" width="1" height="21" fill="#ffffff" shape-rendering="crispEdges"/>
<rect x="428" y="1" width="25" height="23" fill="#f8f8f8" shape-rendering="crispEdges"/><rect x="428" y="1" width="25" height="1" fill="#a0a0a0" shape-rendering="crispEdges"/><rect x="428" y="1" width="1" height="23" fill="#a0a0a0" shape-rendering="crispEdges"/><rect x="428" y="23" width="25" height="1" fill="#ffffff" shape-rendering="crispEdges"/><rect x="452" y="1" width="1" height="23" fill="#ffffff" shape-rendering="crispEdges"/>
<g stroke="#505050" stroke-width="1.3" fill="none"><line x1="436.4" y1="8" x2="436.4" y2="21"/><line x1="434" y1="18.7" x2="447.5" y2="18.7"/></g><polygon points="434.2,9.6 436.4,7 438.59999999999997,9.6" fill="#505050"/><polygon points="445.9,16.5 448.5,18.7 445.9,20.9" fill="#505050"/>
<polygon points="440.8,9.2 445,12.6 440.8,16" fill="#90e890" stroke="#10a010" stroke-width="1"/>
<rect x="456" y="1" width="25" height="23" fill="#f8f8f8" shape-rendering="crispEdges"/><rect x="456" y="1" width="25" height="1" fill="#a0a0a0" shape-rendering="crispEdges"/><rect x="456" y="1" width="1" height="23" fill="#a0a0a0" shape-rendering="crispEdges"/><rect x="456" y="23" width="25" height="1" fill="#ffffff" shape-rendering="crispEdges"/><rect x="480" y="1" width="1" height="23" fill="#ffffff" shape-rendering="crispEdges"/>
<g stroke="#505050" stroke-width="1.3" fill="none"><line x1="464.4" y1="8" x2="464.4" y2="21"/><line x1="462" y1="18.7" x2="475.5" y2="18.7"/></g><polygon points="462.2,9.6 464.4,7 466.59999999999997,9.6" fill="#505050"/><polygon points="473.9,16.5 476.5,18.7 473.9,20.9" fill="#505050"/>
<line x1="470.5" y1="7.2" x2="470.5" y2="17" stroke="#1060a0" stroke-width="1.3"/>
<line x1="472" y1="12.4" x2="476" y2="12.4" stroke="#e04000" stroke-width="1.3"/>
<polygon points="471.2,12.4 474,10.2 474,14.6" fill="#e04000"/>
<rect x="485" y="2" width="1" height="21" fill="#a0a0a0" shape-rendering="crispEdges"/><rect x="486" y="2" width="1" height="21" fill="#ffffff" shape-rendering="crispEdges"/>
<path d="M495.7,6 H503.5 L506.5,9 V18.3 H495.7 Z" fill="url(#gdoc)" stroke="#8a8a8a" stroke-width="1"/>
<path d="M503.5,6 V9 H506.5" fill="#fff" stroke="#8a8a8a" stroke-width="0.8"/>
<path d="M499.5,9 q-1.5,0.5 -1.2,2 v4 q0,1 1,1.2" fill="none" stroke="#504020" stroke-width="0.9"/>
<path d="M503.2,11.3 h3.7 v3.9 h3.9 v3.7 h-3.9 v3.9 h-3.7 v-3.9 h-3.9 v-3.7 h3.9 z" fill="url(#gpl)" stroke="#0a8a0a" stroke-width="0.9"/>
<polygon points="516.7,12 522.3,12 519.5,15.2" fill="#000"/>
<circle cx="541" cy="12.9" r="7.9" fill="url(#gclock)"/>
<circle cx="541" cy="12.9" r="5.7" fill="#f4f8fc"/>
<g fill="#909090"><rect x="540.6" y="7.8" width="0.9" height="0.9"/><rect x="540.6" y="17.2" width="0.9" height="0.9" fill="#50a0f0"/><rect x="535.8" y="12.5" width="0.9" height="0.9"/><rect x="545.3" y="12.5" width="0.9" height="0.9"/><rect x="537.3" y="9.2" width="0.8" height="0.8"/><rect x="544" y="9.2" width="0.8" height="0.8"/><rect x="537.3" y="15.8" width="0.8" height="0.8"/><rect x="544" y="15.8" width="0.8" height="0.8"/></g>
<g stroke="#303030" stroke-width="1.1"><line x1="541" y1="12.9" x2="540.6" y2="8.8"/><line x1="541" y1="12.9" x2="543.6" y2="12.6"/></g>
<polygon points="555.8000000000001,12 561.4,12 558.6,15.2" fill="#000"/>
<rect x="572.2" y="6" width="15.8" height="13.9" fill="#3a78c8"/>
<rect x="572.2" y="6" width="15.8" height="2" fill="#5a9ae0"/>
<rect x="573.3" y="8.6" width="13.6" height="4.8" fill="#fff"/><rect x="573.3" y="14.3" width="13.6" height="4.6" fill="#fff"/>
<polyline points="574.5,12 576.5,12 578,10.6 580,10.6 581.5,11.5 583.5,11.5 585,10.4 586,10.4" fill="none" stroke="#a02010" stroke-width="1"/>
<polyline points="575,17.4 577,17.4 578.5,16.4 580,17.4 581.5,16.6 583,15.2 584.5,16.6 586,17.6" fill="none" stroke="#109020" stroke-width="1"/>
<polygon points="594.6,12 600.1999999999999,12 597.4,15.2" fill="#000"/>
<rect x="606" y="0" width="1" height="25" fill="#a0a0a0" shape-rendering="crispEdges"/><rect x="607" y="0" width="1" height="25" fill="#ffffff" shape-rendering="crispEdges"/>
<rect x="610" y="3" width="3" height="1" fill="#a0a0a0" shape-rendering="crispEdges"/><rect x="610" y="5" width="3" height="1" fill="#a0a0a0" shape-rendering="crispEdges"/><rect x="610" y="7" width="3" height="1" fill="#a0a0a0" shape-rendering="crispEdges"/><rect x="610" y="9" width="3" height="1" fill="#a0a0a0" shape-rendering="crispEdges"/><rect x="610" y="11" width="3" height="1" fill="#a0a0a0" shape-rendering="crispEdges"/><rect x="610" y="13" width="3" height="1" fill="#a0a0a0" shape-rendering="crispEdges"/><rect x="610" y="15" width="3" height="1" fill="#a0a0a0" shape-rendering="crispEdges"/><rect x="610" y="17" width="3" height="1" fill="#a0a0a0" shape-rendering="crispEdges"/><rect x="610" y="19" width="3" height="1" fill="#a0a0a0" shape-rendering="crispEdges"/><rect x="610" y="21" width="3" height="1" fill="#a0a0a0" shape-rendering="crispEdges"/>
<rect x="616" y="1" width="25" height="23" fill="#f8f8f8" shape-rendering="crispEdges"/><rect x="616" y="1" width="25" height="1" fill="#a0a0a0" shape-rendering="crispEdges"/><rect x="616" y="1" width="1" height="23" fill="#a0a0a0" shape-rendering="crispEdges"/><rect x="616" y="23" width="25" height="1" fill="#ffffff" shape-rendering="crispEdges"/><rect x="640" y="1" width="1" height="23" fill="#ffffff" shape-rendering="crispEdges"/>
<polygon points="624.2,6 624.2,16.8 626.6,14.8 629.2,19.9 631.1,19 628.6,14.2 632,13.7" fill="#505050"/>
<g stroke="#404040" stroke-width="1.2"><line x1="649" y1="13.5" x2="664" y2="13.5"/><line x1="656.5" y1="6" x2="656.5" y2="21"/></g>
<rect x="656" y="13" width="1" height="1" fill="#f0f0f0"/>
<rect x="673" y="2" width="1" height="21" fill="#a0a0a0" shape-rendering="crispEdges"/><rect x="674" y="2" width="1" height="21" fill="#ffffff" shape-rendering="crispEdges"/>
<g stroke="#404040" stroke-width="1.3"><line x1="690.5" y1="6.8" x2="690.5" y2="20"/><line x1="712.8" y1="13.5" x2="725.2" y2="13.5"/><line x1="740.7" y1="19.9" x2="753.1" y2="7.8"/></g>
<g stroke="#404040" stroke-width="0.8"><line x1="766.4" y1="14.5" x2="774.7" y2="7.1"/><line x1="768" y1="18.3" x2="780" y2="7.3"/><line x1="772" y1="19.7" x2="781.1" y2="11.3"/></g>
<g stroke="#404040" stroke-width="1.2"><line x1="769.3" y1="12.3" x2="769.3" y2="19.7"/><line x1="772.4" y1="11.2" x2="772.4" y2="16.5"/><line x1="775.4" y1="9.2" x2="775.4" y2="15.6"/><line x1="778.5" y1="5.1" x2="778.5" y2="12"/></g>
<text x="777.9" y="21.9" font-size="6.8px" font-weight="bold" fill="#303030">E</text>
<line x1="795.9" y1="6.5" x2="809.2" y2="6.5" stroke="#404040" stroke-width="1" stroke-dasharray="1 1"/>
<line x1="795.9" y1="9.8" x2="809.2" y2="9.8" stroke="#404040" stroke-width="1" stroke-dasharray="1 1"/>
<line x1="795.9" y1="13.7" x2="809.2" y2="13.7" stroke="#404040" stroke-width="1" stroke-dasharray="1 1"/>
<line x1="795.9" y1="17.6" x2="804.5" y2="17.6" stroke="#404040" stroke-width="1" stroke-dasharray="1 1"/>
<text x="805.5" y="21.9" font-size="6.8px" font-weight="bold" fill="#303030">F</text>
<text x="826.7" y="17.9" font-size="12.6px" fill="#505050" stroke="#505050" stroke-width="0.35" textLength="7.7" lengthAdjust="spacingAndGlyphs">A</text>
<g stroke="#404040" stroke-width="1" stroke-dasharray="1 1" shape-rendering="crispEdges"><line x1="853" y1="7.5" x2="866" y2="7.5"/><line x1="853" y1="19.5" x2="866" y2="19.5"/><line x1="853.5" y1="7" x2="853.5" y2="20"/><line x1="865.5" y1="7" x2="865.5" y2="20"/></g>
<rect x="852.4" y="6.2" width="1.6" height="1.4" fill="#404040"/>
<text x="855" y="17.9" font-size="11.4px" fill="#505050" stroke="#505050" stroke-width="0.35" textLength="7.8" lengthAdjust="spacingAndGlyphs">T</text>
<polygon points="880,11.6 883.6,6.8 887.2,11.6" fill="#505050"/>
<polygon points="887.2,15.4 894,15.4 890.6,19.9" fill="#505050"/>
<polyline points="882,14.6 884.6,16.6 888.6,11.4" fill="none" stroke="#505050" stroke-width="1.3"/>
<polygon points="900.8000000000001,12 906.4,12 903.6,15.2" fill="#000"/>
<rect x="912" y="0" width="1" height="25" fill="#a0a0a0" shape-rendering="crispEdges"/><rect x="913" y="0" width="1" height="25" fill="#ffffff" shape-rendering="crispEdges"/>
<rect x="916" y="3" width="3" height="1" fill="#a0a0a0" shape-rendering="crispEdges"/><rect x="916" y="5" width="3" height="1" fill="#a0a0a0" shape-rendering="crispEdges"/><rect x="916" y="7" width="3" height="1" fill="#a0a0a0" shape-rendering="crispEdges"/><rect x="916" y="9" width="3" height="1" fill="#a0a0a0" shape-rendering="crispEdges"/><rect x="916" y="11" width="3" height="1" fill="#a0a0a0" shape-rendering="crispEdges"/><rect x="916" y="13" width="3" height="1" fill="#a0a0a0" shape-rendering="crispEdges"/><rect x="916" y="15" width="3" height="1" fill="#a0a0a0" shape-rendering="crispEdges"/><rect x="916" y="17" width="3" height="1" fill="#a0a0a0" shape-rendering="crispEdges"/><rect x="916" y="19" width="3" height="1" fill="#a0a0a0" shape-rendering="crispEdges"/><rect x="916" y="21" width="3" height="1" fill="#a0a0a0" shape-rendering="crispEdges"/>
<rect x="1062" y="1" width="25" height="23" fill="#f8f8f8" shape-rendering="crispEdges"/><rect x="1062" y="1" width="25" height="1" fill="#a0a0a0" shape-rendering="crispEdges"/><rect x="1062" y="1" width="1" height="23" fill="#a0a0a0" shape-rendering="crispEdges"/><rect x="1062" y="23" width="25" height="1" fill="#ffffff" shape-rendering="crispEdges"/><rect x="1086" y="1" width="1" height="23" fill="#ffffff" shape-rendering="crispEdges"/>
<g font-size="9.6px" fill="#404040" opacity="0.999">
<text x="928.2" y="16.8" textLength="11.6" lengthAdjust="spacingAndGlyphs">M1</text>
<text x="956.1" y="16.8" textLength="11.7" lengthAdjust="spacingAndGlyphs">M5</text>
<text x="982.2" y="16.8" textLength="16.5" lengthAdjust="spacingAndGlyphs">M15</text>
<text x="1009.9" y="16.8" textLength="16.7" lengthAdjust="spacingAndGlyphs">M30</text>
<text x="1040.9" y="16.8" textLength="10.8" lengthAdjust="spacingAndGlyphs">H1</text>
<text x="1068.2" y="16.8" textLength="11.2" lengthAdjust="spacingAndGlyphs">H4</text>
<text x="1097.0" y="16.8" textLength="10.8" lengthAdjust="spacingAndGlyphs">D1</text>
<text x="1124.8" y="16.8" textLength="12.7" lengthAdjust="spacingAndGlyphs">W1</text>
<text x="1151.2" y="16.8" textLength="13.7" lengthAdjust="spacingAndGlyphs">MN</text>
</g>
<rect x="1173" y="0" width="1" height="25" fill="#a0a0a0" shape-rendering="crispEdges"/><rect x="1174" y="0" width="1" height="25" fill="#ffffff" shape-rendering="crispEdges"/>
<line x1="1640.4" y1="14" x2="1636.6" y2="17.8" stroke="#2458c8" stroke-width="2.6" stroke-linecap="round"/>
<circle cx="1643.7" cy="10.4" r="3.9" fill="#f4f6fc" stroke="#2a5cd0" stroke-width="1.3"/>
<path d="M1662.5,11 q5,-2 9,0.5 q1.5,4 -1,7 q-3,1 -5,0.6 l-2.6,2.4 l0.4,-3 q-2.6,-2.5 -0.8,-7.5 z" fill="#e8e8f0" stroke="#a8a8a8" stroke-width="0.9"/>
<circle cx="1674.5" cy="10.4" r="8.3" fill="url(#gbadge)"/>
<text x="1674.2" y="14.9" font-size="12.4px" font-weight="bold" fill="#fff" text-anchor="middle" textLength="5.6" lengthAdjust="spacingAndGlyphs">1</text>
</svg>
</body></html>
